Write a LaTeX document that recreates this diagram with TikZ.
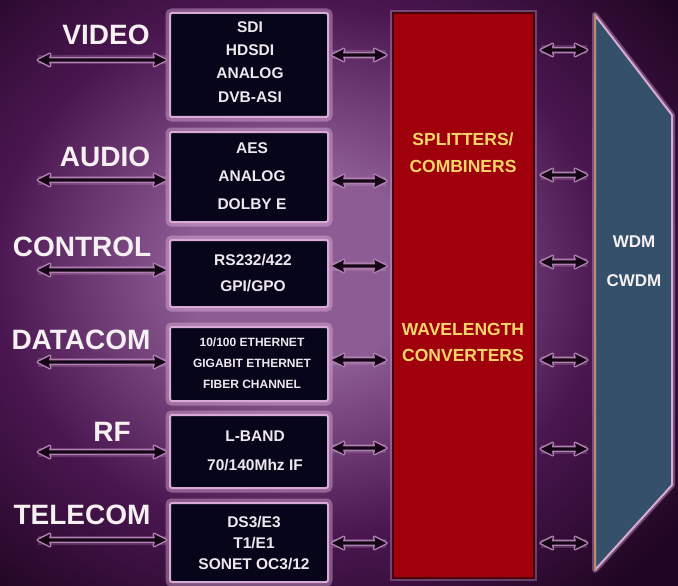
\documentclass[tikz,border=0pt]{standalone}
\usepackage{fontspec}
\setmainfont{Liberation Sans}
\usetikzlibrary{arrows.meta,calc}
\definecolor{bgA}{HTML}{8E5C94}
\definecolor{bgB}{HTML}{4A1650}
\definecolor{bgC}{HTML}{200622}
\definecolor{boxfill}{HTML}{07051A}
\definecolor{boxedge}{HTML}{DAAAD6}
\definecolor{glow}{HTML}{E8BCE4}
\definecolor{halo}{HTML}{B07EB0}
\definecolor{labwhite}{HTML}{F6F0F2}
\definecolor{txtwhite}{HTML}{EEE8EE}
\definecolor{redfill}{HTML}{A0000C}
\definecolor{rededge}{HTML}{4A0008}
\definecolor{yel}{HTML}{F6D668}
\definecolor{bluefill}{HTML}{34506A}
\definecolor{arrowc}{HTML}{140614}
\definecolor{tan}{HTML}{C08A6A}
\pgfdeclareradialshading{bgglow}{\pgfpoint{0bp}{0bp}}{color(0bp)=(bgA); color(6bp)=(bgA); color(16bp)=(bgB); color(25bp)=(bgC); color(50bp)=(bgC)}
\tikzset{
  lab/.style={text=labwhite, font=\fontsize{28}{30}\selectfont\bfseries, inner sep=0pt},
  inbox/.style={fill=boxfill, draw=boxedge, line width=2pt, rounded corners=2pt,
    minimum width=158pt, inner sep=0pt, preaction={draw=glow, line width=9pt, opacity=0.4}},
  btxt/.style={text=txtwhite, font=\fontsize{15.5}{17}\selectfont\bfseries, inner sep=0pt},
  stxt/.style={text=txtwhite, font=\fontsize{12}{14}\selectfont\bfseries, inner sep=0pt},
  ytxt/.style={text=yel, font=\fontsize{17.5}{19}\selectfont\bfseries, inner sep=0pt},
  wtxt/.style={text=labwhite, font=\fontsize{17}{19}\selectfont\bfseries, inner sep=0pt},
  arrowglow/.style={draw=glow, line width=9pt, line join=round, opacity=0.18},
  arrowbody/.style={fill=arrowc, preaction={draw=halo, line width=3pt, line join=round}},
}
% double-headed arrow drawn as one filled outline between two named coordinates
\newcommand\dblarrow[2]{%
  \path[arrowglow] (#1) -- (#2);
  \path[arrowbody] (#1) -- ($(#1)+(12,-6)$) -- ($(#1)+(11,-1.6)$) -- ($(#2)+(-11,-1.6)$)
    -- ($(#2)+(-12,-6)$) -- (#2) -- ($(#2)+(-12,6)$) -- ($(#2)+(-11,1.6)$)
    -- ($(#1)+(11,1.6)$) -- ($(#1)+(12,6)$) -- cycle;}
\begin{document}
\begin{tikzpicture}[x=1pt,y=-1pt]
\useasboundingbox (0,0) rectangle (678,586);
\begin{scope}
\clip (0,0) rectangle (678,586);
\fill[bgC] (0,0) rectangle (678,586);
\shade[shading=bgglow] (300,270) ellipse (480 and 420);
\end{scope}

% labels
\node[lab] (lvideo) at (106,35) {VIDEO};
\node[lab] (laudio) at (105,157) {AUDIO};
\node[lab] (lcontrol) at (82,247) {CONTROL};
\node[lab] (ldatacom) at (81,340) {DATACOM};
\node[lab] (lrf) at (112,432) {RF};
\node[lab] (ltelecom) at (82,515) {TELECOM};

% interface boxes
\node[inbox, minimum height=104pt] (vbox) at (249,65) {};
\node[inbox, minimum height=90pt] (abox) at (249,177) {};
\node[inbox, minimum height=67pt] (cbox) at (249,273.5) {};
\node[inbox, minimum height=74pt] (dbox) at (249,364) {};
\node[inbox, minimum height=73pt] (rbox) at (249,451.5) {};
\node[inbox, minimum height=79pt] (tbox) at (249,542.5) {};

\node[btxt] (v1) at (250,27) {SDI};
\node[btxt] (v2) at (250,50) {HDSDI};
\node[btxt] (v3) at (250,73) {ANALOG};
\node[btxt] (v4) at (250,97) {DVB-ASI};
\node[btxt] (a1) at (252,148) {AES};
\node[btxt] (a2) at (252,176) {ANALOG};
\node[btxt] (a3) at (252,204) {DOLBY E};
\node[btxt] (c1) at (253,260) {RS232/422};
\node[btxt] (c2) at (253,286) {GPI/GPO};
\node[stxt] (d1) at (252,342) {10/100 ETHERNET};
\node[stxt] (d2) at (252,363) {GIGABIT ETHERNET};
\node[stxt] (d3) at (252,384) {FIBER CHANNEL};
\node[btxt] (r1) at (255,436) {L-BAND};
\node[btxt] (r2) at (255,465) {70/140Mhz IF};
\node[btxt] (t1) at (254,522) {DS3/E3};
\node[btxt] (t2) at (254,543) {T1/E1};
\node[btxt] (t3) at (254,564) {SONET OC3/12};

% red block
\node[fill=redfill, draw=rededge, line width=1.5pt, minimum width=141pt, minimum height=565pt,
  inner sep=0pt, preaction={draw=glow, line width=6pt, opacity=0.3}] (red) at (463.5,295.5) {};
\node[ytxt] (s1) at (463,139) {SPLITTERS/};
\node[ytxt] (s2) at (463,166) {COMBINERS};
\node[ytxt] (s3) at (463,329) {WAVELENGTH};
\node[ytxt] (s4) at (463,355) {CONVERTERS};

% WDM block
\coordinate (w1) at (595,15);
\coordinate (w2) at (672,115);
\coordinate (w3) at (672,485);
\coordinate (w4) at (595,570);
\draw[draw=glow, line width=6pt, opacity=0.35, line join=round] (w1) -- (w2) -- (w3) -- (w4) -- cycle;
\filldraw[fill=bluefill, draw=boxedge, line width=2pt, line join=round] (w1) -- (w2) -- (w3) -- (w4) -- cycle;
\draw[tan, line width=1.5pt] (w1) -- (w4);
\node[wtxt] (wdm) at (634,242) {WDM};
\node[wtxt] (cwdm) at (634,281) {CWDM};

% left arrows
\coordinate (la1) at (38,60);
\coordinate (la2) at (38,180);
\coordinate (la3) at (38,270);
\coordinate (la4) at (38,362);
\coordinate (la5) at (38,452);
\coordinate (la6) at (38,540);
\foreach \p/\b in {la1/vbox,la2/abox,la3/cbox,la4/dbox,la5/rbox,la6/tbox}{
  \coordinate (\p-e) at ($(\p -| \b.west)+(-3,0)$);
  \dblarrow{\p}{\p-e}
}

% middle arrows
\coordinate (m1) at (0,55);
\coordinate (m2) at (0,181);
\coordinate (m3) at (0,266);
\coordinate (m4) at (0,360);
\coordinate (m5) at (0,448);
\coordinate (m6) at (0,543);
\foreach \p/\b in {m1/vbox,m2/abox,m3/cbox,m4/dbox,m5/rbox,m6/tbox}{
  \coordinate (\p-s) at ($(\b.east |- \p)+(3,0)$);
  \coordinate (\p-e) at ($(red.west |- \p)+(-6,0)$);
  \dblarrow{\p-s}{\p-e}
}

% right arrows
\coordinate (q1) at (0,50);
\coordinate (q2) at (0,175);
\coordinate (q3) at (0,262);
\coordinate (q4) at (0,360);
\coordinate (q5) at (0,449);
\coordinate (q6) at (0,543);
\foreach \q in {q1,q2,q3,q4,q5,q6}{
  \coordinate (\q-s) at ($(red.east |- \q)+(6,0)$);
  \coordinate (\q-e) at ($(w1 |- \q)+(-8,0)$);
  \dblarrow{\q-s}{\q-e}
}
\end{tikzpicture}
\end{document}
